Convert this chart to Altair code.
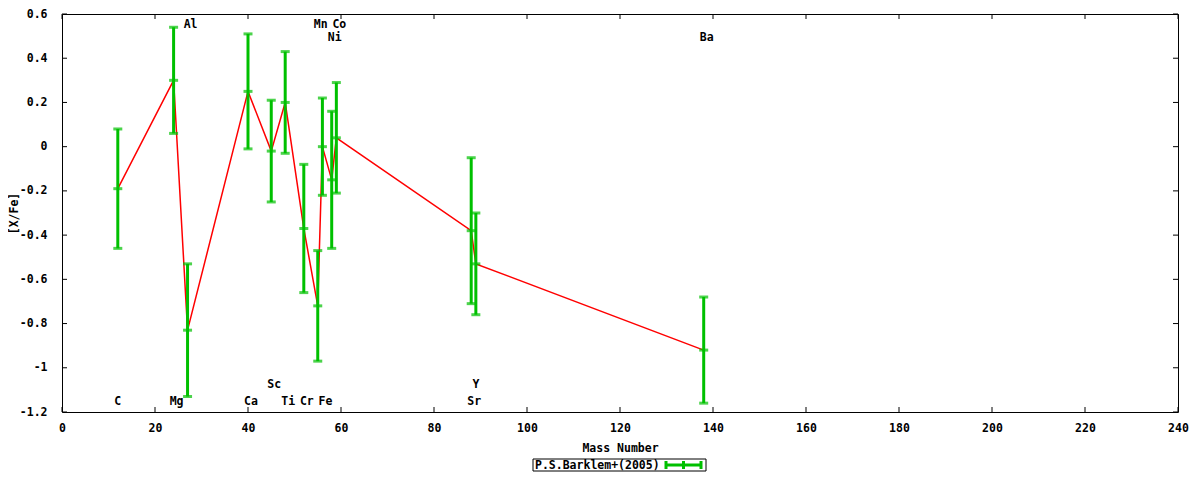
import altair as alt
import pandas as pd

# ---- data ----
elements = ["C", "Mg", "Al", "Ca", "Sc", "Ti", "Cr", "Mn", "Fe", "Ni", "Co", "Sr", "Y", "Ba"]
mass = [12, 24, 27, 40, 45, 48, 52, 55, 56, 58, 59, 88, 89, 138]
xfe = [-0.19, 0.30, -0.83, 0.25, -0.02, 0.20, -0.37, -0.72, 0.00, -0.15, 0.04, -0.38, -0.53, -0.92]
err = [0.27, 0.24, 0.30, 0.26, 0.23, 0.23, 0.29, 0.25, 0.22, 0.31, 0.25, 0.33, 0.23, 0.24]

label_text = ["C", "Mg", "Al", "Ca", "Sc", "Ti", "Cr", "Fe", "Mn", "Co", "Ni", "Sr", "Y", "Ba"]
label_mass = [12, 24, 27, 40, 45, 48, 52, 56, 55, 59, 58, 88, 89, 138]
label_y = [-1.155, -1.155, 0.55, -1.155, -1.08, -1.155, -1.155, -1.155, 0.55, 0.55, 0.49, -1.155, -1.08, 0.49]

x_ticks = [0, 20, 40, 60, 80, 100, 120, 140, 160, 180, 200, 220, 240]
y_ticks = [-1.2, -1.0, -0.8, -0.6, -0.4, -0.2, 0.0, 0.2, 0.4, 0.6]

legend_label = "P.S.Barklem+(2005)"

W, H = 1116, 398
FONT = "DejaVu Sans Mono"
FS = 11.5
GREEN = "#00c000"

df = pd.DataFrame({"el": elements, "mass": mass, "xfe": xfe, "err": err})
df["lo"] = df["xfe"] - df["err"]
df["hi"] = df["xfe"] + df["err"]
labels = pd.DataFrame({"label": label_text, "mass": label_mass, "xfe": label_y})
xt = pd.DataFrame({"mass": x_ticks})
yt = pd.DataFrame({"xfe": y_ticks})
leg = pd.DataFrame({"label": [legend_label]})

xscale = alt.Scale(domain=[0, 240], nice=False, zero=False)
yscale = alt.Scale(domain=[-1.2, 0.6], nice=False, zero=False)

num_fmt = "(datum.value < 0 ? '-' : '') + format(abs(datum.value), '~g')"

x_axis = alt.Axis(values=x_ticks, ticks=False, domain=False, grid=False, labelFlush=False,
                  labelPadding=10, titlePadding=9, labelExpr=num_fmt)
y_axis = alt.Axis(values=y_ticks, ticks=False, domain=False, grid=False, labelFlush=False,
                  labelPadding=15, titlePadding=0, labelExpr=num_fmt)


def X(field):
    return alt.X(field, scale=xscale, title="Mass Number", axis=x_axis)


def Y(field):
    return alt.Y(field, scale=yscale, title="[X/Fe]", axis=y_axis)


line = alt.Chart(df).mark_line(color="#ff0000", strokeWidth=1.5).encode(x=X("mass:Q"), y=Y("xfe:Q"))

bars = alt.Chart(df).mark_rule(color=GREEN, strokeWidth=3).encode(
    x=X("mass:Q"), y=Y("lo:Q"), y2="hi:Q")
cap_lo = alt.Chart(df).mark_tick(color=GREEN, orient="horizontal", size=9, thickness=3).encode(
    x=X("mass:Q"), y=Y("lo:Q"))
cap_hi = alt.Chart(df).mark_tick(color=GREEN, orient="horizontal", size=9, thickness=3).encode(
    x=X("mass:Q"), y=Y("hi:Q"))
cap_mid = alt.Chart(df).mark_tick(color=GREEN, orient="horizontal", size=9, thickness=3).encode(
    x=X("mass:Q"), y=Y("xfe:Q"))

txt1 = alt.Chart(labels).transform_filter("length(datum.label) == 1").mark_text(
    font=FONT, fontSize=FS, fontWeight="bold", color="black", align="center", baseline="middle"
).encode(x=X("mass:Q"), y=Y("xfe:Q"), text="label:N")
txt2 = alt.Chart(labels).transform_filter("length(datum.label) > 1").mark_text(
    font=FONT, fontSize=FS, fontWeight="bold", color="black", align="center", baseline="middle", dx=3
).encode(x=X("mass:Q"), y=Y("xfe:Q"), text="label:N")

# inward border ticks (gnuplot style)
tk_bottom = alt.Chart(xt).mark_rule(color="black", strokeWidth=1).encode(
    x=X("mass:Q"), y=alt.value(H), y2=alt.value(H - 5))
tk_top = alt.Chart(xt).mark_rule(color="black", strokeWidth=1).encode(
    x=X("mass:Q"), y=alt.value(0), y2=alt.value(5))
tk_left = alt.Chart(yt).mark_rule(color="black", strokeWidth=1).encode(
    y=Y("xfe:Q"), x=alt.value(0), x2=alt.value(5))
tk_right = alt.Chart(yt).mark_rule(color="black", strokeWidth=1).encode(
    y=Y("xfe:Q"), x=alt.value(W), x2=alt.value(W - 5))

# key box
LX0, LX1, LY0, LY1 = 471, 644, 445, 457
LYM = (LY0 + LY1) / 2
leg_box = alt.Chart(leg).mark_rect(fill="white", stroke="black", strokeWidth=1).encode(
    x=alt.value(LX0), x2=alt.value(LX1), y=alt.value(LY0), y2=alt.value(LY1))
leg_text = alt.Chart(leg).mark_text(font=FONT, fontSize=FS, fontWeight="bold", color="black",
                                    align="left", baseline="middle").encode(
    x=alt.value(LX0 + 2), y=alt.value(LYM + 0.5), text="label:N")
leg_line = alt.Chart(leg).mark_rule(color=GREEN, strokeWidth=3).encode(
    x=alt.value(604), x2=alt.value(639), y=alt.value(LYM))
leg_caps = [alt.Chart(leg).mark_rule(color=GREEN, strokeWidth=3).encode(
    x=alt.value(px), y=alt.value(LYM - 4), y2=alt.value(LYM + 4)) for px in (604, 621.5, 639)]

chart = alt.layer(
    line, bars, cap_lo, cap_hi, cap_mid, txt1, txt2,
    tk_bottom, tk_top, tk_left, tk_right,
    leg_box, leg_text, leg_line, *leg_caps
).properties(
    width=W, height=H,
    padding={"left": 0, "top": 0, "right": 0, "bottom": 0},
    background="white",
).configure_view(
    stroke="black", strokeWidth=1
).configure_axis(
    labelFont=FONT, labelFontSize=FS, labelFontWeight="bold", labelColor="black",
    titleFont=FONT, titleFontSize=FS, titleFontWeight="bold", titleColor="black",
)

chart.save("out.html", embed_options={"renderer": "svg", "actions": False})
